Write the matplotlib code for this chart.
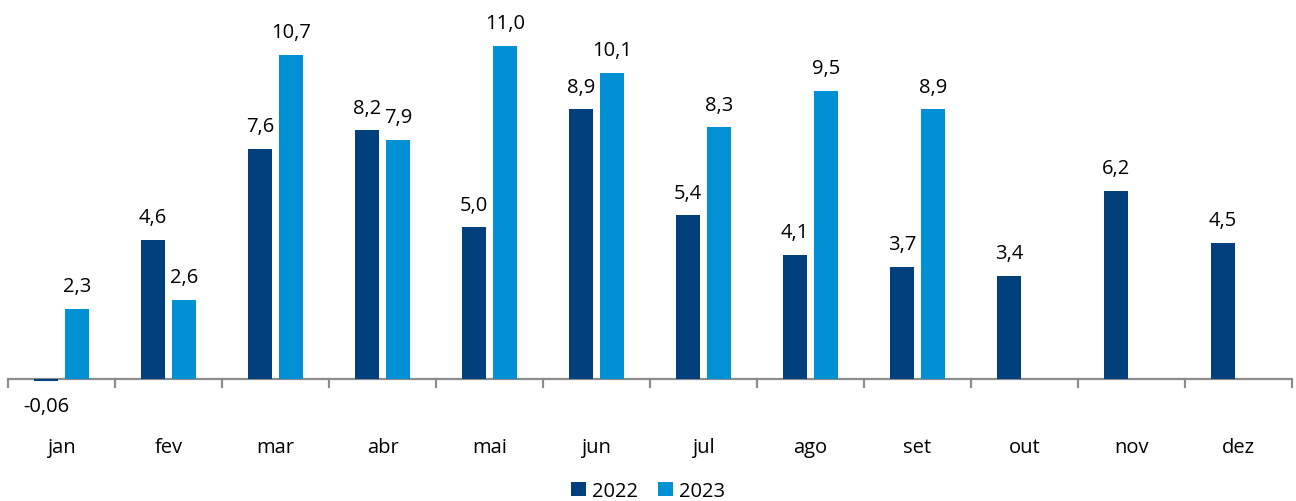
import matplotlib.pyplot as plt
import numpy as np

# dados mensais (%)
meses = ['jan', 'fev', 'mar', 'abr', 'mai', 'jun', 'jul', 'ago', 'set', 'out', 'nov', 'dez']
v2022 = [-0.06, 4.6, 7.6, 8.2, 5.0, 8.9, 5.4, 4.1, 3.7, 3.4, 6.2, 4.5]
v2023 = [2.3, 2.6, 10.7, 7.9, 11.0, 10.1, 8.3, 9.5, 8.9]
rot2022 = ['-0,06', '4,6', '7,6', '8,2', '5,0', '8,9', '5,4', '4,1', '3,7', '3,4', '6,2', '4,5']
rot2023 = ['2,3', '2,6', '10,7', '7,9', '11,0', '10,1', '8,3', '9,5', '8,9']

cor2022 = '#023F7D'
cor2023 = '#0090D3'
cinza = '#8C8C8C'

plt.rcParams['font.family'] = ['Open Sans', 'DejaVu Sans']
fs = 14.5

fig = plt.figure(figsize=(12.96, 5.02), dpi=100)
ax = fig.add_axes([8/1296, 1 - 395/502, 1284/1296, 395/502])

x = np.arange(len(meses))
larg = 0.225
desl = 0.145

b1 = ax.bar(x - desl, v2022, larg, color=cor2022, label='2022')
b2 = ax.bar(x[:len(v2023)] + desl, v2023, larg, color=cor2023, label='2023')

# rótulos de valor acima (ou abaixo) das barras
for xi, v, t in zip(x - desl, v2022, rot2022):
    if v < 0:
        ax.text(xi, v - 0.5, t, ha='center', va='top', fontsize=fs)
    else:
        ax.text(xi, v + 0.42, t, ha='center', va='bottom', fontsize=fs)
for xi, v, t in zip(x[:len(v2023)] + desl, v2023, rot2023):
    ax.text(xi, v + 0.42, t, ha='center', va='bottom', fontsize=fs)

ax.set_xlim(-0.5, len(meses) - 0.5)
ax.set_ylim(-0.5, 12.54)

# eixo horizontal no zero com marcas entre as categorias
for s in ['top', 'right', 'left', 'bottom']:
    ax.spines[s].set_visible(False)
ax.axhline(0, color=cinza, linewidth=1.6, zorder=0)
for b in np.arange(-0.5, len(meses), 1.0):
    ax.plot([b, b], [0, -0.27], color=cinza, linewidth=1.6, clip_on=False)

ax.set_yticks([])
ax.set_xticks([])
for xi, m in zip(x, meses):
    ax.text(xi, -2.25, m, ha='center', va='center', fontsize=fs)

fig.legend(handles=[b1, b2], loc='center', bbox_to_anchor=(0.5, 10/502),
           ncol=2, frameon=False, fontsize=fs, handlelength=0.75, handleheight=0.75,
           handletextpad=0.3, columnspacing=1.0)

fig.savefig('out.png', dpi=100)
